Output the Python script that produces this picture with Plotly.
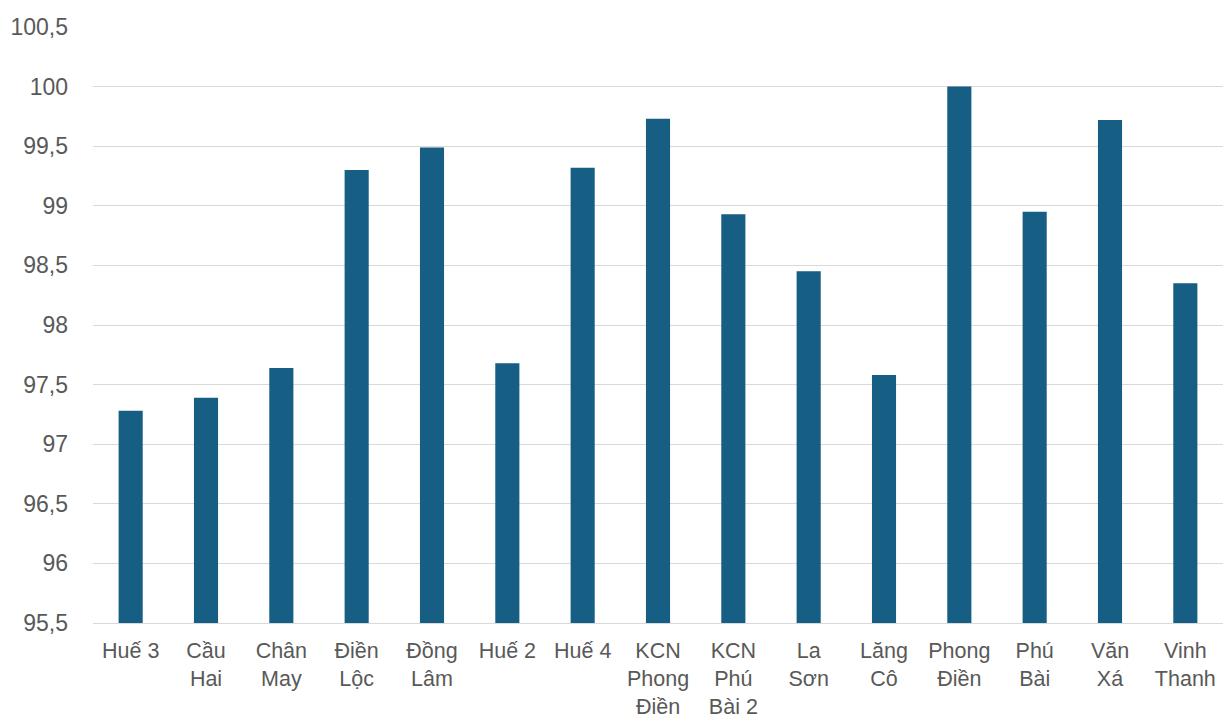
import plotly.graph_objects as go

# Trạm đo và giá trị tương ứng
stations = [
    "Huế 3", "Cầu<br>Hai", "Chân<br>May", "Điền<br>Lộc", "Đồng<br>Lâm",
    "Huế 2", "Huế 4", "KCN<br>Phong<br>Điền", "KCN<br>Phú<br>Bài 2", "La<br>Sơn",
    "Lăng<br>Cô", "Phong<br>Điền", "Phú<br>Bài", "Văn<br>Xá", "Vinh<br>Thanh",
]
values = [97.28, 97.39, 97.64, 99.30, 99.49, 97.68, 99.32, 99.73,
          98.93, 98.45, 97.58, 100.0, 98.95, 99.72, 98.35]

y_floor = 95.5
y_ticks = [95.5, 96, 96.5, 97, 97.5, 98, 98.5, 99, 99.5, 100, 100.5]

# bars start at the axis floor
fig = go.Figure(
    go.Bar(
        x=stations,
        y=[v - y_floor for v in values],
        base=y_floor,
        marker=dict(color="#165E83", line=dict(width=0)),
        width=0.32,
        hovertext=[f"{v}" for v in values],
    )
)

fig.update_layout(
    width=1224,
    height=722,
    margin=dict(l=93, r=1, t=27, b=99),
    plot_bgcolor="white",
    paper_bgcolor="white",
    separators=",.",
    showlegend=False,
    font=dict(family="Liberation Sans, Arial, sans-serif", size=23, color="#595959"),
)
fig.update_xaxes(
    showgrid=False,
    showline=True,
    linecolor="#d9d9d9",
    linewidth=1,
    ticks="",
    tickangle=0,
    automargin=False,
    ticklabelstandoff=8,
    tickfont=dict(size=21.5, color="#595959"),
)
fig.update_yaxes(
    range=[95.5, 100.5],
    tickvals=y_ticks,
    showgrid=True,
    gridcolor="#d9d9d9",
    gridwidth=1,
    zeroline=False,
    showline=False,
    ticks="",
    automargin=False,
    ticklabelstandoff=24,
    tickfont=dict(size=23, color="#595959"),
)

fig.write_html("out.html")
